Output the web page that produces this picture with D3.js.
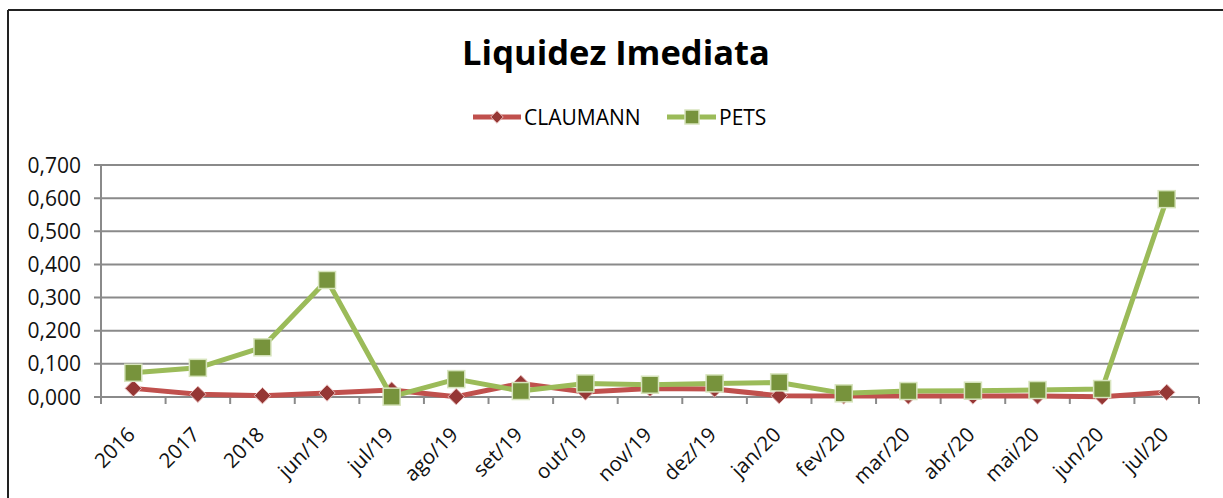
<!DOCTYPE html>
<html>
<head>
<meta charset="utf-8">
<script src="https://cdn.jsdelivr.net/npm/d3@7"></script>
<style>
  body { margin: 0; background: #fff; }
  text { font-family: "Open Sans", "Liberation Sans", sans-serif; }
</style>
</head>
<body>
<div id="chart"></div>
<script>
  // data
  var categories = ["2016", "2017", "2018", "jun/19", "jul/19", "ago/19", "set/19", "out/19", "nov/19",
    "dez/19", "jan/20", "fev/20", "mar/20", "abr/20", "mai/20", "jun/20", "jul/20"];
  var claumann = [0.026, 0.008, 0.004, 0.012, 0.021, 0.001, 0.041, 0.015, 0.026,
    0.024, 0.004, 0.003, 0.003, 0.003, 0.003, 0.001, 0.014];
  var pets = [0.073, 0.088, 0.150, 0.353, 0.001, 0.054, 0.018, 0.041, 0.037,
    0.041, 0.044, 0.011, 0.018, 0.019, 0.021, 0.024, 0.597];
  var yTicks = [0, 0.1, 0.2, 0.3, 0.4, 0.5, 0.6, 0.7];

  var W = 1223, H = 498;
  var svg = d3.select("#chart").append("svg")
    .attr("width", W)
    .attr("height", H);

  // frame (only top and left visible in the crop)
  svg.append("line").attr("x1", 8).attr("y1", 10).attr("x2", W).attr("y2", 10)
    .style("stroke", "#222").style("stroke-width", 2);
  svg.append("line").attr("x1", 8).attr("y1", 10).attr("x2", 8).attr("y2", H)
    .style("stroke", "#222").style("stroke-width", 2);

  svg.append("text")
    .attr("x", 616)
    .attr("y", 65)
    .attr("text-anchor", "middle")
    .style("font-size", "34.5px")
    .style("font-weight", "bold")
    .text("Liquidez Imediata");

  var x = d3.scaleBand().domain(categories).range([101, 1199]);
  var y = d3.scaleLinear().domain([0, 0.7]).range([397, 165]);

  // gridlines
  svg.append("g")
    .selectAll("line")
    .data(yTicks)
    .enter()
    .append("line")
    .attr("x1", 94)
    .attr("x2", 1199)
    .attr("y1", function(d){ return y(d); })
    .attr("y2", function(d){ return y(d); })
    .style("stroke", "#8a8a8a")
    .style("stroke-width", 2);

  // y labels
  svg.append("g")
    .selectAll("text")
    .data(yTicks)
    .enter()
    .append("text")
    .attr("x", 81)
    .attr("y", function(d){ return y(d) + 7.5; })
    .attr("text-anchor", "end")
    .style("font-size", "21px")
    .style("fill", "#111")
    .text(function(d){ return d3.format(".3f")(d).replace(".", ","); });

  // y axis line
  svg.append("line").attr("x1", 101).attr("x2", 101).attr("y1", y(0.7)).attr("y2", y(0))
    .style("stroke", "#8a8a8a").style("stroke-width", 2);

  // x tick marks at band edges
  var edges = categories.map(function(c){ return x(c); }).concat([x.range()[1]]);
  svg.append("g")
    .selectAll("line")
    .data(edges)
    .enter()
    .append("line")
    .attr("x1", function(d){ return d; })
    .attr("x2", function(d){ return d; })
    .attr("y1", y(0))
    .attr("y2", y(0) + 7)
    .style("stroke", "#8a8a8a")
    .style("stroke-width", 2);

  // x labels
  svg.append("g")
    .selectAll("text")
    .data(categories)
    .enter()
    .append("text")
    .attr("transform", function(d){
      return "translate(" + (x(d) + x.bandwidth() / 2 + 3) + "," + 436 + ") rotate(-45)";
    })
    .attr("text-anchor", "end")
    .style("font-size", "20.5px")
    .style("fill", "#111")
    .text(function(d){ return d; });

  var cx = function(d, i){ return x(categories[i]) + x.bandwidth() / 2; };
  var line = d3.line()
    .x(function(d, i){ return cx(d, i); })
    .y(function(d){ return y(d); });

  // CLAUMANN
  svg.append("path")
    .datum(claumann)
    .attr("d", line)
    .style("fill", "none")
    .style("stroke", "#C0504D")
    .style("stroke-width", 5)
    .style("stroke-linejoin", "round");

  svg.append("g")
    .selectAll("path")
    .data(claumann)
    .enter()
    .append("path")
    .attr("d", d3.symbol().type(d3.symbolDiamond2).size(170))
    .attr("transform", function(d, i){ return "translate(" + cx(d, i) + "," + y(d) + ")"; })
    .style("fill", "#953735")
    .style("stroke", "#E6B9B8")
    .style("stroke-width", 1);

  // PETS
  svg.append("path")
    .datum(pets)
    .attr("d", line)
    .style("fill", "none")
    .style("stroke", "#9BBB59")
    .style("stroke-width", 5)
    .style("stroke-linejoin", "round");

  svg.append("g")
    .selectAll("rect")
    .data(pets)
    .enter()
    .append("rect")
    .attr("x", function(d, i){ return cx(d, i) - 8.5; })
    .attr("y", function(d){ return y(d) - 8.5; })
    .attr("width", 17)
    .attr("height", 17)
    .style("fill", "#77933C")
    .style("stroke", "#D7E4BD")
    .style("stroke-width", 1.5);

  // legend
  var legend = svg.append("g");
  legend.append("line").attr("x1", 473).attr("x2", 521).attr("y1", 117).attr("y2", 117)
    .style("stroke", "#C0504D").style("stroke-width", 5);
  legend.append("path")
    .attr("d", d3.symbol().type(d3.symbolDiamond2).size(100))
    .attr("transform", "translate(497,117)")
    .style("fill", "#953735").style("stroke", "#E6B9B8");
  legend.append("text").attr("x", 524).attr("y", 124.5)
    .style("font-size", "21px").text("CLAUMANN");

  legend.append("line").attr("x1", 667).attr("x2", 716).attr("y1", 117).attr("y2", 117)
    .style("stroke", "#9BBB59").style("stroke-width", 5);
  legend.append("rect").attr("x", 685).attr("y", 110).attr("width", 14).attr("height", 14)
    .style("fill", "#77933C").style("stroke", "#D7E4BD").style("stroke-width", 1.5);
  legend.append("text").attr("x", 719).attr("y", 124.5)
    .style("font-size", "21px").text("PETS");
</script>
</body>
</html>
